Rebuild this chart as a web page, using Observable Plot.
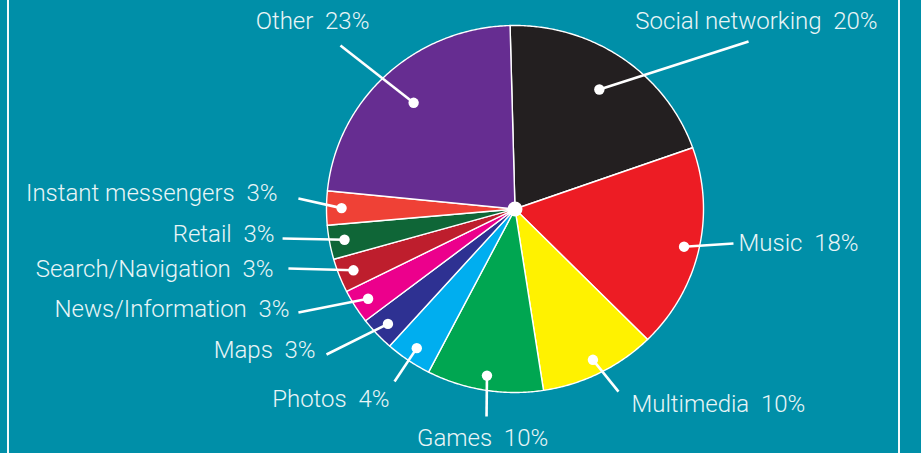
<!DOCTYPE html>
<html>
<head>
<meta charset="utf-8">
<script src="https://cdn.jsdelivr.net/npm/d3@7"></script>
<script src="https://cdn.jsdelivr.net/npm/@observablehq/plot@0.6"></script>
<style>
  html, body { margin: 0; padding: 0; background: #008FA8; }
  #wrap { position: relative; width: 921px; height: 453px; overflow: hidden; }
  .edge { position: absolute; top: 0; bottom: 0; width: 2px; background: #f4fbfc; }
</style>
</head>
<body>
<div id="wrap">
  <div class="edge" style="left:7px"></div>
  <div class="edge" style="left:898px"></div>
</div>
<script>
// ---- data ----
const categories = ["Social networking", "Music", "Multimedia", "Games", "Photos", "Maps",
  "News/Information", "Search/Navigation", "Retail", "Instant messengers", "Other"];
const shares = [20, 18, 10, 10, 4, 3, 3, 3, 3, 3, 23];
const colors = ["#231F20", "#ED1C24", "#FFF200", "#00A651", "#00AEEF", "#2E3192",
  "#EC008C", "#BE1E2D", "#0F6637", "#EF4136", "#662D91"];

// ---- annotation layout (pie units: radius = 1, y up) ----
const lineEnds = [[1.239, 0.913], [1.159, -0.188], [0.549, -0.995], [-0.151, -1.131],
  [-0.639, -0.940], [-1.000, -0.793], [-1.149, -0.564], [-1.202, -0.324],
  [-1.233, -0.161], [-1.149, 0.057], [-0.926, 0.891]];
const labelAt = [[1.281, 1.022], [1.186, -0.188], [0.618, -1.065], [-0.172, -1.251],
  [-0.666, -1.038], [-1.058, -0.771], [-1.196, -0.548], [-1.281, -0.330],
  [-1.276, -0.139], [-1.260, 0.084], [-1.074, 1.022]];
const labelAnchor = ["middle", "start", "start", "middle", "end", "end", "end", "end", "end", "end", "middle"];

// ---- build slices ----
const total = d3.sum(shares);
const rot = -1.5 * Math.PI / 180;
let acc = 0;
const rows = categories.map((name, i) => {
  const a0 = rot + acc / total * 2 * Math.PI;
  acc += shares[i];
  const a1 = rot + acc / total * 2 * Math.PI;
  const mid = (a0 + a1) / 2;
  const rr = shares[i] >= 20 ? 0.79 : 0.92;
  return {
    name, share: shares[i], a0, a1,
    dx: rr * Math.sin(mid), dy: rr * Math.cos(mid),
    lx: lineEnds[i][0], ly: lineEnds[i][1],
    tx: labelAt[i][0], ty: labelAt[i][1], anchor: labelAnchor[i],
    label: `${name}  ${shares[i]}%`
  };
});

const features = rows.map(r => {
  const n = Math.max(4, Math.ceil((r.a1 - r.a0) / (Math.PI / 360)));
  const ring = [[0, 0]];
  for (let k = 0; k <= n; k++) {
    const a = r.a0 + (r.a1 - r.a0) * k / n;
    ring.push([Math.sin(a), Math.cos(a)]);
  }
  ring.push([0, 0]);
  return {type: "Feature", properties: {name: r.name}, geometry: {type: "Polygon", coordinates: [ring]}};
});

const W = 921, H = 453;
const pie = {cx: 514.5, cy: 208.5, rx: 188.5, ry: 183.5};
const pieProjection = () => d3.geoTransform({
  point(x, y) { this.stream.point(pie.cx + pie.rx * x, pie.cy - pie.ry * y); }
});

const textColor = "#e9f5f7";
const font = {fontSize: 24, fontWeight: 300, fill: textColor};

const chart = Plot.plot({
  width: W, height: H, margin: 0,
  projection: pieProjection,
  color: {domain: categories, range: colors},
  style: {background: "transparent", fontFamily: "Roboto, 'Open Sans', sans-serif"},
  marks: [
    Plot.geo(features, {fill: d => d.properties.name, stroke: "white", strokeWidth: 1.4}),
    Plot.link(rows, {x1: "dx", y1: "dy", x2: "lx", y2: "ly", stroke: "white", strokeWidth: 2.6}),
    Plot.dot(rows, {x: "dx", y: "dy", r: 5.2, fill: "white", stroke: "none"}),
    Plot.dot([0], {x: d => d, y: d => d, r: 7.5, fill: "white", stroke: "none"}),
    Plot.text(rows.filter(r => r.anchor === "start"), {x: "tx", y: "ty", text: "label", textAnchor: "start", ...font}),
    Plot.text(rows.filter(r => r.anchor === "middle"), {x: "tx", y: "ty", text: "label", textAnchor: "middle", ...font}),
    Plot.text(rows.filter(r => r.anchor === "end"), {x: "tx", y: "ty", text: "label", textAnchor: "end", ...font})
  ]
});
document.getElementById("wrap").prepend(chart);
</script>
</body>
</html>
